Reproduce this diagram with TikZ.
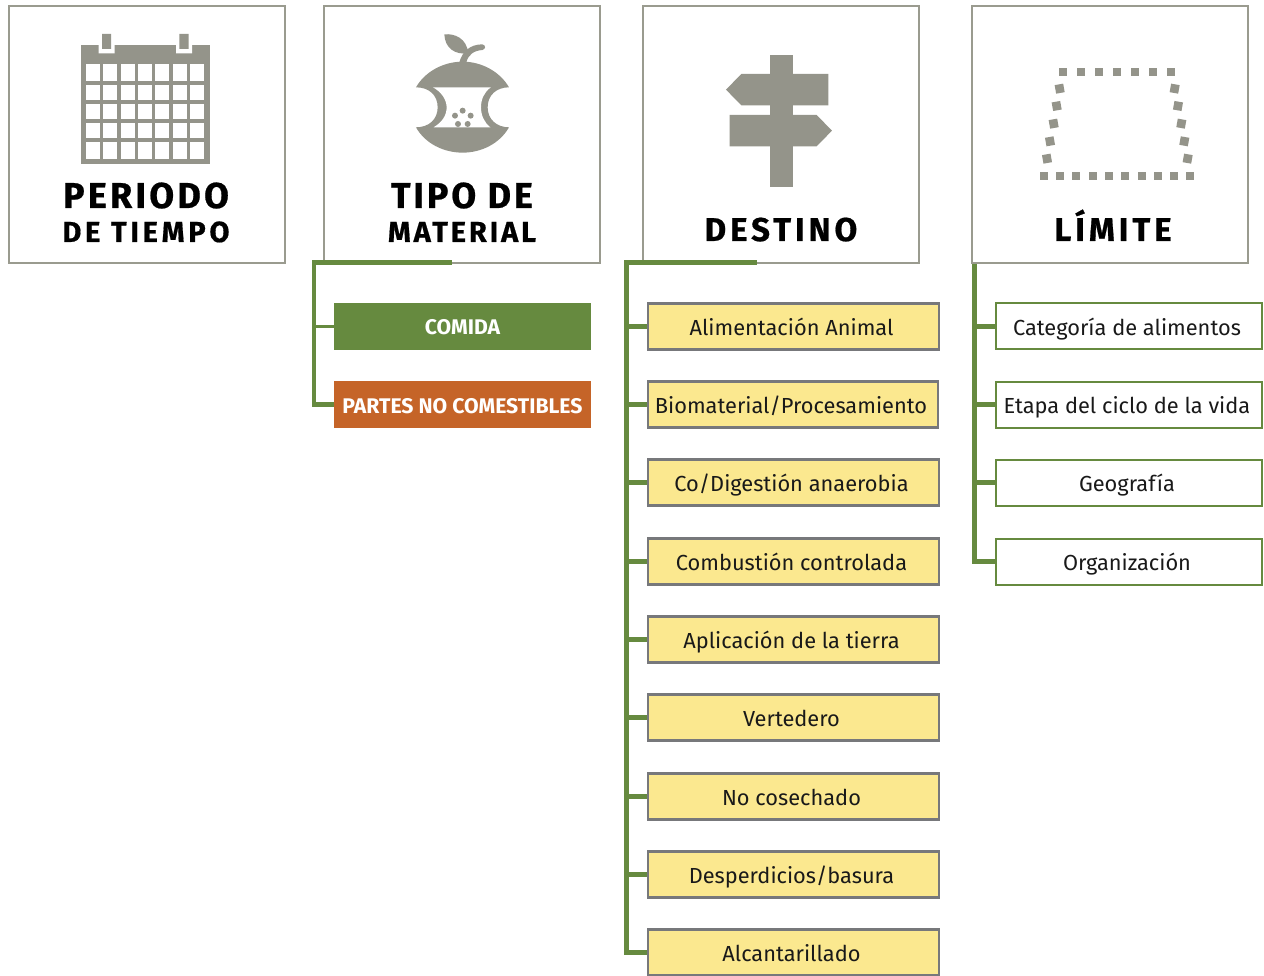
\documentclass[tikz,border=0pt]{standalone}
\usepackage{fontspec}
\setmainfont{Fira Sans}
\definecolor{hdrline}{HTML}{9A9B8F}
\definecolor{icon}{HTML}{94948A}
\definecolor{grn}{HTML}{668A3F}
\definecolor{org}{HTML}{C56428}
\definecolor{yel}{HTML}{FBE88F}
\definecolor{ybord}{HTML}{77787B}
\newcommand{\titfont}[2]{\fontsize{#1}{#1}\selectfont\bfseries\addfontfeatures{LetterSpace=#2,FakeBold=0.6}}
\tikzset{
 hdr/.style={draw=hdrline,line width=2pt,fill=white,minimum width=276pt,minimum height=257pt,inner sep=0pt},
 ttl/.style={inner sep=0pt,text=black,anchor=base},
 conn/.style={draw=grn,line width=4.4pt,line cap=butt,line join=miter},
 ybox/.style={draw=ybord,line width=2.4pt,fill=yel,inner sep=0pt,minimum width=291pt,minimum height=46pt,font=\fontsize{21.8}{24}\selectfont,text=black!90,text height=18pt,text depth=0pt,execute at begin node={\hspace*{-4pt}}},
 wbox/.style={draw=grn,line width=2pt,fill=white,inner sep=0pt,minimum width=266pt,minimum height=46pt,font=\fontsize{21.8}{24}\selectfont,text=black!90,text height=18pt,text depth=0pt,execute at begin node={\hspace*{-4pt}}},
 cbox/.style={inner sep=0pt,minimum width=257pt,minimum height=47pt,text=white,font=\fontsize{21.2}{22}\selectfont\bfseries,text height=17pt,text depth=0pt},
 ic/.style={fill=icon,draw=none},
}
\begin{document}
\begin{tikzpicture}[x=1pt,y=-1pt]
\useasboundingbox (0,0) rectangle (1264,976);
\clip (0,0) rectangle (1264,976);
% headers
\node[hdr] (h1) at (147,134.5) {};
\node[hdr] (h2) at (462,134.5) {};
\node[hdr] (h3) at (781,134.5) {};
\node[hdr] (h4) at (1110,134.5) {};
% header titles
\node[ttl] (t1a) at (146,208) {\titfont{36}{9}PERIODO};
\node[ttl] (t1b) at (146,242) {\titfont{29}{13}DE TIEMPO};
\node[ttl] (t2a) at (462,208) {\titfont{36}{8}TIPO DE};
\node[ttl] (t2b) at (462,242) {\titfont{29}{10}MATERIAL};
\node[ttl] (t3) at (781,241) {\titfont{33}{12}DESTINO};
\node[ttl] (t4) at (1113,241) {\titfont{33}{12}LÍMITE};
% calendar
\fill[icon] (80.5,45) rectangle (210,164);
\fill[white] (98.7,44) rectangle (114.7,53.3) (176,44) rectangle (192,53.3);
\fill[icon] (102,34) rectangle (111,49) (179.3,34) rectangle (188.7,49);
\foreach \cx in {86.3,103.3,120.7,138,155.3,172.7,190.3}
 \foreach \cy/\ch in {63.7/17.3,84.7/15.3,103.7/15.3,123/15.3,141.7/17.3}
  \fill[white] (\cx,\cy) rectangle ++(14,\ch);
% apple
\begin{scope}[shift={(305,0)},x=0.3333pt,y=-0.3333pt]
 \fill[icon] (333,262) .. controls (360,215) and (415,185) .. (473,185) .. controls (530,185) and (585,215) .. (612,262)
  .. controls (575,262) and (548,285) .. (548,322) .. controls (548,358) and (575,382) .. (612,382)
  .. controls (585,430) and (530,458) .. (473,458) .. controls (415,458) and (360,430) .. (333,382)
  .. controls (372,382) and (398,358) .. (398,322) .. controls (398,285) and (372,262) .. (333,262) -- cycle;
 \fill[white] (384,262) -- (558,262) .. controls (538,275) and (528,298) .. (528,322) .. controls (528,346) and (538,368) .. (556,382)
  -- (386,382) .. controls (412,366) and (425,346) .. (425,322) .. controls (425,298) and (408,275) .. (384,262) -- cycle;
 \fill[icon] (473,332) circle (9) (450,347) circle (9) (497,347) circle (9) (459,372) circle (9) (488,372) circle (9);
 \fill[icon] (418,103) .. controls (450,100) and (485,115) .. (490,160) .. controls (450,165) and (420,145) .. (418,103) -- cycle;
 \fill[icon] (463,187) .. controls (472,155) and (495,133) .. (532,133) .. controls (543,135) and (543,148) .. (532,150) .. controls (505,152) and (490,165) .. (484,187) -- cycle;
\end{scope}
% signpost
\begin{scope}[shift={(620,0)},x=0.3333pt,y=-0.3333pt]
 \fill[icon] (450,165) rectangle (519,561);
 \fill[icon] (318,269) -- (364,222) -- (625,222) -- (625,316) -- (364,316) -- cycle;
 \fill[icon] (329,345) -- (590,345) -- (636,392) -- (590,439) -- (329,439) -- cycle;
\end{scope}
% dashed trapezoid
\begin{scope}[shift={(960,0)},x=0.3333pt,y=-0.3333pt]
 \foreach \px in {310,364,418,472,526,580,632}
  \fill[icon] (\px-12,204) rectangle (\px+12,228);
 \foreach \px in {252,300,349,398,447,496,545,594,643,690}
  \fill[icon] (\px-12,516) rectangle (\px+12,540);
 \foreach \px/\py in {299/266,290/318,281/371,270/424,261/476}
  \fill[icon,shift={(\px,\py)},rotate=10] (-13,-13) rectangle (13,13);
 \foreach \px/\py in {644/266,654/318,664/371,673/424,683/476}
  \fill[icon,shift={(\px,\py)},rotate=-10] (-13,-13) rectangle (13,13);
\end{scope}
% material boxes
\node[cbox,fill=grn] (m1) at (462.5,326.5) {COMIDA};
\node[cbox,fill=org] (m2) at (462.5,404.5) {PARTES NO COMESTIBLES};
% destino boxes
\node[ybox] (d1) at (793.5,326.5) {Alimentación Animal};
\node[ybox,minimum width=290pt] (d2) at (793,404.5) {Biomaterial/Procesamiento};
\node[ybox] (d3) at (793.5,482.5) {Co/Digestión anaerobia};
\node[ybox] (d4) at (793.5,561.5) {Combustión controlada};
\node[ybox] (d5) at (793.5,639.5) {Aplicación de la tierra};
\node[ybox] (d6) at (793.5,717.5) {Vertedero};
\node[ybox] (d7) at (793.5,796.5) {No cosechado};
\node[ybox] (d8) at (793.5,874.5) {Desperdicios/basura};
\node[ybox] (d9) at (793.5,952.5) {Alcantarillado};
% limite boxes
\node[wbox] (l1) at (1129,326.5) {Categoría de alimentos};
\node[wbox] (l2) at (1129,404.5) {Etapa del ciclo de la vida};
\node[wbox] (l3) at (1129,482.5) {Geografía};
\node[wbox] (l4) at (1129,561.5) {Organización};
% connectors
\coordinate (e2) at (452,262.7);
\coordinate (tr2) at (314,300);
\coordinate (e3) at (757,262.7);
\coordinate (tr3) at (626.5,300);
\coordinate (tr4) at (974.5,300);
\draw[conn] (e2) -- (e2 -| tr2) |- (m2.west);
\draw[conn,line width=3.4pt] (m1.west) -- (m1.west -| tr2);
\draw[conn] (e3) -- (e3 -| tr3) |- (d9.west);
\foreach \n in {d1,d2,d3,d4,d5,d6,d7,d8}
 \draw[conn] (\n.west) -- (\n.west -| tr3);
\draw[conn] (h4.south -| tr4) |- (l4.west);
\foreach \n in {l1,l2,l3}
 \draw[conn] (\n.west) -- (\n.west -| tr4);
\end{tikzpicture}
\end{document}
